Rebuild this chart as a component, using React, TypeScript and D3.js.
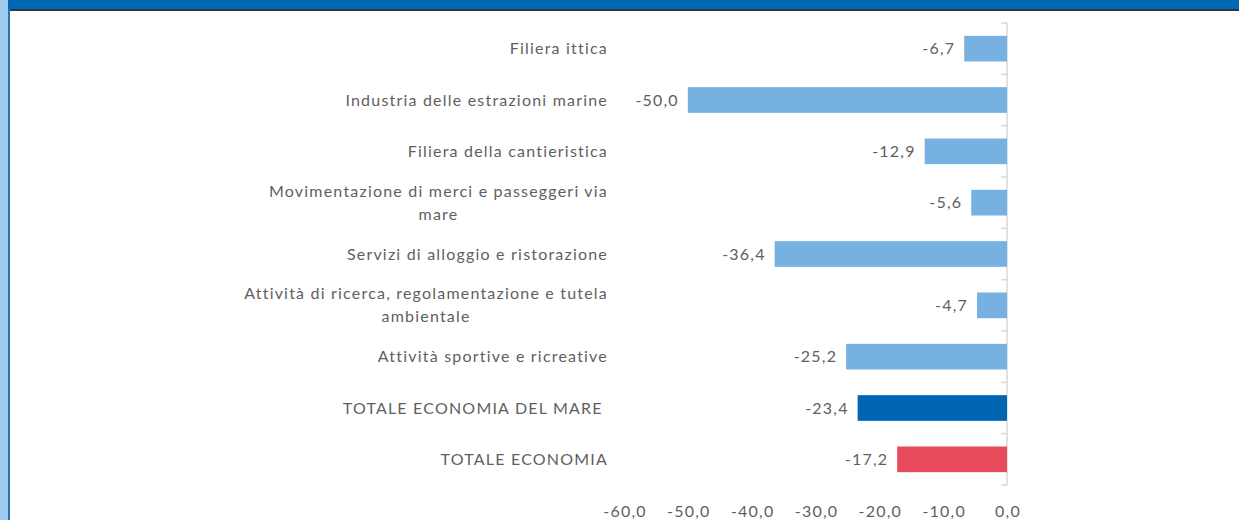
import React, { useEffect, useRef } from 'react';
import * as d3 from 'd3';

const categories = [
  'Filiera ittica',
  'Industria delle estrazioni marine',
  'Filiera della cantieristica',
  'Movimentazione di merci e passeggeri via|mare',
  'Servizi di alloggio e ristorazione',
  'Attività di ricerca, regolamentazione e tutela|ambientale',
  'Attività sportive e ricreative',
  'TOTALE ECONOMIA DEL MARE ',
  'TOTALE ECONOMIA',
];
const values = [-6.7, -50.0, -12.9, -5.6, -36.4, -4.7, -25.2, -23.4, -17.2];
const barKinds = ['sector', 'sector', 'sector', 'sector', 'sector', 'sector', 'sector', 'sea', 'total'];
const xTicks = [-60, -50, -40, -30, -20, -10, 0];

const W = 1239;
const H = 520;
const FONT = 'Lato, "Open Sans", sans-serif';
const SPACING = '1.2px';
const TEXT = '#5f5f5f';
const colors: Record<string, string> = { sector: '#77b1e1', sea: '#0065b2', total: '#e84c5c' };

const fmt = (v: number) => d3.format('.1f')(v).replace('.', ',').replace('−', '-');

export default function App() {
  const ref = useRef<SVGSVGElement>(null);

  useEffect(() => {
    const svg = d3.select(ref.current);
    svg.selectAll('*').remove();

    // frame
    svg.append('rect').attr('width', W).attr('height', H).attr('fill', '#fff');
    svg.append('rect').attr('x', 0).attr('y', 0).attr('width', W).attr('height', 9).attr('fill', '#0068b4');
    svg.append('rect').attr('x', 0).attr('y', 9).attr('width', W).attr('height', 2).attr('fill', '#2b3440');
    svg.append('rect').attr('x', 0).attr('y', 0).attr('width', 8).attr('height', H).attr('fill', '#9dcaee');
    svg.append('rect').attr('x', 8).attr('y', 9).attr('width', 2).attr('height', H).attr('fill', '#2a6fb8');

    const x = d3.scaleLinear().domain([-60, 0]).range([624, 1007]);
    const y = d3.scaleBand<string>().domain(categories).range([23, 485]).paddingInner(0.5).paddingOuter(0.25);

    const txt = (sel: d3.Selection<any, any, any, any>) =>
      sel.attr('font-family', FONT)
        .attr('font-size', 16)
        .attr('fill', TEXT)
        .attr('letter-spacing', SPACING)
        .style('white-space', 'pre');

    // vertical axis line with category ticks
    const axis = svg.append('g');
    axis.append('line')
      .attr('x1', x(0)).attr('x2', x(0))
      .attr('y1', y.range()[0]).attr('y2', y.range()[1])
      .attr('stroke', '#d9d9d9').attr('stroke-width', 1.5);
    d3.range(categories.length + 1).forEach(i => {
      const yy = y.range()[0] + i * y.step();
      axis.append('line')
        .attr('x1', x(0) - 6).attr('x2', x(0))
        .attr('y1', yy).attr('y2', yy)
        .attr('stroke', '#d9d9d9').attr('stroke-width', 1.5);
    });

    // bars
    svg.append('g').selectAll('rect')
      .data(categories)
      .join('rect')
      .attr('x', (_, i) => x(values[i]))
      .attr('y', d => y(d)!)
      .attr('width', (_, i) => x(0) - x(values[i]))
      .attr('height', y.bandwidth())
      .attr('fill', (_, i) => colors[barKinds[i]]);

    // value labels
    svg.append('g').selectAll('text')
      .data(categories)
      .join('text')
      .attr('x', (_, i) => x(values[i]) - 9)
      .attr('y', d => y(d)! + y.bandwidth() / 2)
      .attr('dy', '0.35em')
      .attr('text-anchor', 'end')
      .call(txt)
      .text((_, i) => fmt(values[i]));

    // category labels (wrapped ones centred as a block, right aligned)
    const labelRight = 608;
    const lineH = 23;
    const labels = svg.append('g');
    categories.forEach(c => {
      const lines = c.split('|');
      const cy = y(c)! + y.bandwidth() / 2;
      const t = labels.append('text').call(txt);
      if (lines.length === 1) {
        t.attr('x', labelRight).attr('y', cy).attr('dy', '0.35em').attr('text-anchor', 'end').text(lines[0]);
        return;
      }
      const spans = lines.map((l, k) =>
        t.append('tspan')
          .attr('y', cy + (k - (lines.length - 1) / 2) * lineH)
          .attr('dy', '0.35em')
          .text(l));
      const widths = spans.map(s => (s.node() as SVGTSpanElement).getComputedTextLength());
      const mid = labelRight - d3.max(widths)! / 2;
      spans.forEach(s => s.attr('x', mid).attr('text-anchor', 'middle'));
    });

    // x axis labels
    svg.append('g').selectAll('text')
      .data(xTicks)
      .join('text')
      .attr('x', d => x(d) + 1)
      .attr('y', 511)
      .attr('dy', '0.35em')
      .attr('text-anchor', 'middle')
      .call(txt)
      .text(d => fmt(d));
  }, []);

  return (
    <div style={{ position: 'absolute', left: 0, top: 0 }}>
      <svg ref={ref} width={W} height={H} style={{ display: 'block' }} />
    </div>
  );
}
